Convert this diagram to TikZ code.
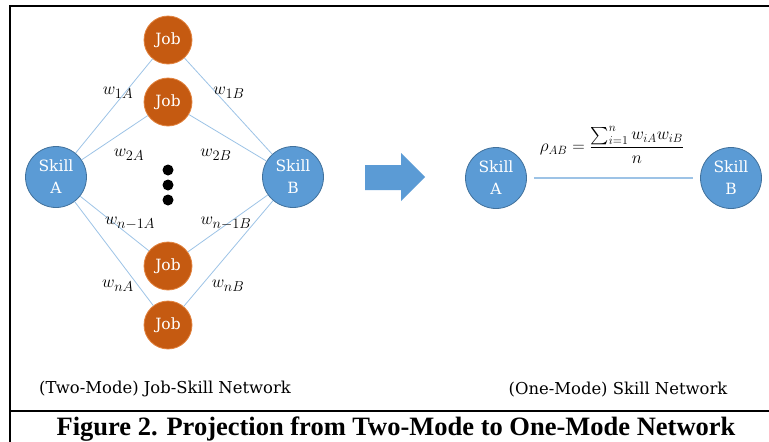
\documentclass[tikz,border=0pt]{standalone}
\usepackage{amsmath}
\usepackage{fontspec}
\newfontfamily\capfont{Liberation Serif}
\newfontfamily\labfont{DejaVu Serif}
\usepackage{tikz}

\definecolor{skillblue}{HTML}{5B9BD5}
\definecolor{skillrim}{HTML}{41719C}
\definecolor{jobfill}{HTML}{C55A11}
\definecolor{jobrim}{HTML}{E2833F}
\definecolor{linkblue}{HTML}{9DC3E6}

\tikzset{
  skill/.style={circle,fill=skillblue,draw=skillrim,line width=0.8pt,
    minimum size=61pt,inner sep=0pt,text=white,align=center,
    font=\labfont\fontsize{15.5}{22}\selectfont},
  job/.style={circle,fill=jobfill,draw=jobrim,line width=0.8pt,
    minimum size=48pt,inner sep=0pt,text=white,font=\labfont\fontsize{15.5}{20}\selectfont},
  link/.style={linkblue,line width=0.8pt},
  wlabel/.style={font=\fontsize{19}{21}\selectfont},
  dot/.style={circle,fill=black,minimum size=11pt,inner sep=0pt}
}

\begin{document}
\begin{tikzpicture}[x=1pt,y=-1pt]

  \useasboundingbox (0,0) rectangle (769,442);

  % frame
  \draw[line width=2pt] (769,6) -- (10,6) -- (10,442);
  \draw[line width=2pt] (10,411) -- (769,411);

  % two-mode network
  \node[skill] (sa) at (56,177) {Skill\\A};
  \node[skill] (sb) at (293,177) {Skill\\B};
  \node[job] (j1) at (168,40) {Job};
  \node[job] (j2) at (168,102) {Job};
  \node[job] (j3) at (168,266) {Job};
  \node[job] (j4) at (168,325) {Job};
  \node[dot] (d1) at (168,170) {};
  \node[dot] (d2) at (168,185) {};
  \node[dot] (d3) at (168,200) {};

  \foreach \j in {j1,j2,j3,j4}
    \draw[link] (sa) -- (\j) -- (sb);

  \node[wlabel] (w1a) at (118,93) {$w_{1A}$};
  \node[wlabel] (w1b) at (229,93) {$w_{1B}$};
  \node[wlabel] (w2a) at (129,155) {$w_{2A}$};
  \node[wlabel] (w2b) at (216,155) {$w_{2B}$};
  \node[wlabel] (wn1a) at (130,223) {$w_{n-1A}$};
  \node[wlabel] (wn1b) at (226,223) {$w_{n-1B}$};
  \node[wlabel] (wna) at (118,286) {$w_{nA}$};
  \node[wlabel] (wnb) at (228,286) {$w_{nB}$};

  % projection arrow
  \fill[skillblue] (365,165) -- (401,165) -- (401,153) -- (425,177)
    -- (401,201) -- (401,190) -- (365,190) -- cycle;

  % one-mode network
  \node[skill] (pa) at (496,178) {Skill\\A};
  \node[skill] (pb) at (731,178) {Skill\\B};
  \draw[link,line width=1.2pt,shorten <=7pt,shorten >=7pt] (pa) -- (pb);
  \node[font=\fontsize{17}{19}\selectfont] (rho) at (612,145)
    {$\rho_{AB}=\dfrac{\textstyle\sum_{i=1}^{n} w_{iA}w_{iB}}{n}$};

  % captions
  \node[font=\labfont\fontsize{16.4}{18}\selectfont] (cap1) at (165,389) {(Two-Mode) Job-Skill Network};
  \node[font=\labfont\fontsize{16.4}{18}\selectfont] (cap2) at (618,390) {(One-Mode) Skill Network};
  \node[font=\capfont\bfseries\fontsize{26.5}{28}\selectfont,anchor=base] (fig)
    at (396,435) {Figure 2. Projection from Two-Mode to One-Mode Network};

\end{tikzpicture}
\end{document}
